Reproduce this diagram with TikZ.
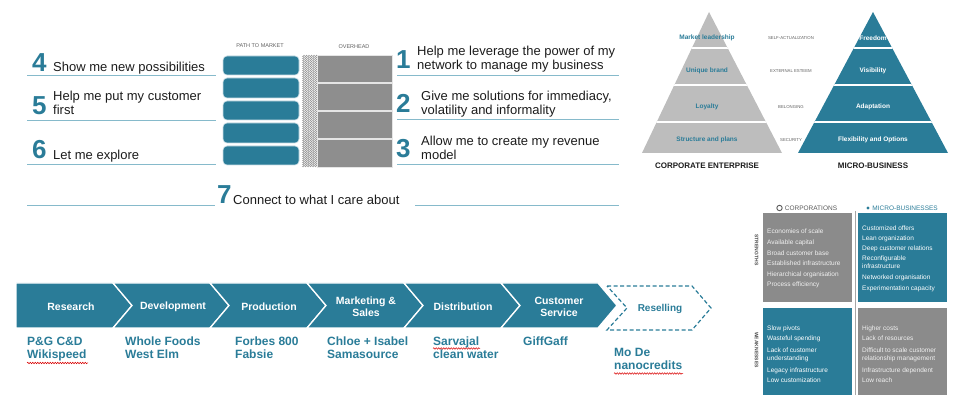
\documentclass[tikz,border=0pt]{standalone}
\usepackage{fontspec}
\setmainfont{Liberation Sans}
\usetikzlibrary{positioning,decorations.pathmorphing}
\definecolor{petrol}{HTML}{2A7C98}
\definecolor{ink}{HTML}{1C1C1C}
\definecolor{rulecol}{HTML}{86BACB}
\definecolor{ovgray}{HTML}{8E8E8E}
\definecolor{pyrgray}{HTML}{BDBDBD}
\definecolor{boxgray}{HTML}{8B8B8B}
\newcommand{\fs}[2]{\fontsize{#1}{#2}\selectfont}

\begin{document}
\begin{tikzpicture}[x=1pt, y=-1pt,
  num/.style={anchor=base west, inner sep=0pt, text=petrol, font=\fs{26}{26}\bfseries},
  need/.style={anchor=base west, inner sep=0pt, text=ink, align=left, font=\fs{13}{14.6}},
  needline/.style={rulecol, line width=0.9pt},
  ptm/.style={fill=petrol, draw=white!75!petrol, line width=0.6pt, rounded corners=4pt},
  ovh/.style={fill=ovgray, draw=white!80!gray, line width=0.8pt},
  caps/.style={inner sep=0pt, text=gray!75!black, font=\fs{5.5}{6}},
  lvl/.style={inner sep=0pt, font=\fs{6.5}{7}\bfseries},
  pyrtitle/.style={inner sep=0pt, text=ink, font=\fs{8}{9}\bfseries},
  hdr/.style={inner sep=0pt, font=\fs{6.5}{7}},
  item/.style={anchor=base west, inner sep=0pt, align=left, font=\fs{6.5}{8.6}},
  side/.style={inner sep=0pt, rotate=-90, text=gray!60!black, font=\fs{5}{5}\bfseries},
  chev/.style={fill=petrol, draw=white, line width=1.3pt, line join=miter},
  stage/.style={inner sep=0pt, align=center, text=white, font=\fs{10.5}{12}\bfseries},
  case/.style={anchor=base west, inner sep=0pt, align=left, text=petrol, font=\fs{12}{13.5}\bfseries},
  typo/.style={red!85!black, line width=0.5pt, decorate, decoration={snake, amplitude=0.8pt, segment length=2.5pt}}]
\useasboundingbox (0,0) rectangle (954,395);

\foreach \k/\nb/\tb/\txt in {4/72/72/{Show me new possibilities},
  5/115/115/{Help me put my customer\\first}, 6/159/160/{Let me explore}}{
  \node[num] (num\k) at (32,\nb) {\k};
  \node[need] (need\k) at (53,\tb) {\txt};
}
\foreach \k/\nb/\tx/\tb/\txt in {1/69/417/70/{Help me leverage the power of my\\network to manage my business},
  2/113/421/115/{Give me solutions for immediacy,\\volatility and informality},
  3/158/421/160/{Allow me to create my revenue\\model}}{
  \node[num] (num\k) at (396,\nb) {\k};
  \node[need] (need\k) at (\tx,\tb) {\txt};
}
\foreach \y in {75,120,164} \draw[needline] (27,\y) -- (216,\y);
\foreach \y in {75,119,164} \draw[needline] (397,\y) -- (619,\y);
\node[num] (num7) at (217,204) {7};
\node[need] (need7) at (233,205) {Connect to what I care about};
\draw[needline] (27,205) -- (215,205);
\draw[needline] (415,205) -- (619,205);

\node[caps] (ptmlabel) at (260,46) {PATH TO MARKET};
\node[caps] (ovhlabel) at (354,47) {OVERHEAD};
\foreach \yt/\yb in {56/75,78/98,101/120,123/143,146/165}
  \filldraw[ptm] (223,\yt) rectangle (299,\yb);
\foreach \xx in {303.5,306,...,316}
  \draw[gray!80, line width=0.45pt, decorate, decoration={zigzag, segment length=2pt, amplitude=1pt}] (\xx,55) -- (\xx,167);
\foreach \yt/\yb in {55/82,83/110,111/138,139/167}
  \filldraw[ovh] (317,\yt) rectangle (392,\yb);

\begin{scope}
  \clip (709,12) -- (782,153) -- (642,153) -- cycle;
  \fill[pyrgray] (630,0) rectangle (800,160);
  \foreach \yy in {48,85,122} \draw[white, line width=1.6pt] (630,\yy) -- (800,\yy);
\end{scope}
\begin{scope}
  \clip (873,12) -- (948,153) -- (798,153) -- cycle;
  \fill[petrol] (790,0) rectangle (954,160);
  \foreach \yy in {48,85,122} \draw[white, line width=1.6pt] (790,\yy) -- (954,\yy);
\end{scope}
\foreach \k/\yy/\txA/\txB/\txC in {1/38/Market leadership/SELF-ACTUALIZATION/Freedom,
  2/71/Unique brand/EXTERNAL ESTEEM/Visibility,
  3/107/Loyalty/BELONGING/Adaptation,
  4/140/Structure and plans/SECURITY/Flexibility and Options}{
  \node[lvl, text=petrol] (corp\k) at (707,\yy) {\txA};
  \node[caps, font=\fs{4.3}{5}] (need\k) at (791,\yy) {\txB};
  \node[lvl, text=white] (micro\k) at (873,\yy) {\txC};
}
\node[pyrtitle] (corptitle) at (707,166) {CORPORATE ENTERPRISE};
\node[pyrtitle] (microtitle) at (873,166) {MICRO-BUSINESS};

\node[circle, draw=gray!70!black, line width=0.9pt, inner sep=1.9pt] (ocirc) at (779.5,208) {};
\node[hdr, text=gray!70!black, anchor=west, right=2pt of ocirc] (corphdr) {CORPORATIONS};
\node[circle, fill=petrol, inner sep=1.1pt] (odot) at (868,208) {};
\node[hdr, text=petrol, anchor=west, right=2.5pt of odot] (microhdr) {MICRO-BUSINESSES};
\fill[boxgray] (763,213) rectangle (852,302);
\fill[petrol] (858,213) rectangle (947,302);
\fill[petrol] (763,308) rectangle (852,395);
\fill[boxgray] (858,308) rectangle (947,395);
\draw[gray!70, line width=0.8pt] (855,211) -- (855,395);
\node[side] (strong) at (756.5,250) {STRENGTHS};
\node[side] (weak) at (756.5,350) {WEAKNESSES};
\foreach \txt [count=\k, evaluate=\k as \yy using 223.4+10.6*\k] in {Economies of scale,
  Available capital, Broad customer base, Established infrastructure,
  Hierarchical organisation, Process efficiency}
  \node[item, text=white!88!gray] (cs\k) at (767,\yy) {\txt};
\foreach \k/\yy/\txt in {1/230.5/Customized offers, 2/240.5/Lean organization,
  3/250.5/Deep customer relations, 4/269/{Reconfigurable\\infrastructure},
  5/279.5/Networked organisation, 6/290.5/Experimentation capacity}
  \node[item, text=white] (ms\k) at (862,\yy) {\txt};
\foreach \k/\yy/\txt in {1/330.5/Slow pivots, 2/340.5/Wasteful spending,
  3/361/{Lack of customer\\understanding}, 4/373/Legacy infrastructure,
  5/383/Low customization}
  \node[item, text=white] (cw\k) at (767,\yy) {\txt};
\foreach \k/\yy/\txt in {1/330.5/Higher costs, 2/340.5/Lack of resources,
  3/361/{Difficult to scale customer\\relationship management},
  4/373/Infrastructure dependent, 5/383/Low reach}
  \node[item, text=white!88!gray] (mw\k) at (862,\yy) {\txt};

\filldraw[chev] (16,283) -- (113,283) -- (132,305.5) -- (113,328) -- (16,328) -- cycle;
\foreach \b in {113,210,307,404,501}
  \filldraw[chev] (\b,283) -- ++(97,0) -- ++(19,22.5) -- ++(-19,22.5) -- ++(-97,0) -- ++(19,-22.5) -- cycle;
\draw[petrol, line width=1.2pt, dash pattern=on 4pt off 2.5pt, line join=miter]
  (607,286) -- (692,286) -- (711,308) -- (692,330) -- (607,330) -- (627,308) -- cycle;
\foreach \n/\x/\txt in {st1/71/Research, st2/173/Development, st3/269/Production,
  st4/366/{Marketing \&\\Sales}, st5/463/Distribution, st6/559/{Customer\\Service}}
  \node[stage] (\n) at (\x,306.5) {\txt};
\node[stage, text=petrol, font=\fs{10}{12}\bfseries] (st7) at (660,309) {Reselling};
\foreach \n/\x/\yy/\txt in {ex1/27/359/{P\&G C\&D\\Wikispeed}, ex2/125/359/{Whole Foods\\West Elm},
  ex3/235/359/{Forbes 800\\Fabsie}, ex4/327/359/{Chloe + Isabel\\Samasource},
  ex5/433/359/{Sarvajal\\clean water}, ex6/523/345.5/GiffGaff, ex7/614/370/{Mo De\\nanocredits}}
  \node[case] (\n) at (\x,\yy) {\txt};
\draw[typo] (27,363) -- (88,363);
\draw[typo] (433,348.5) -- (480,348.5);
\draw[typo] (614,373.5) -- (683,373.5);
\end{tikzpicture}
\end{document}
